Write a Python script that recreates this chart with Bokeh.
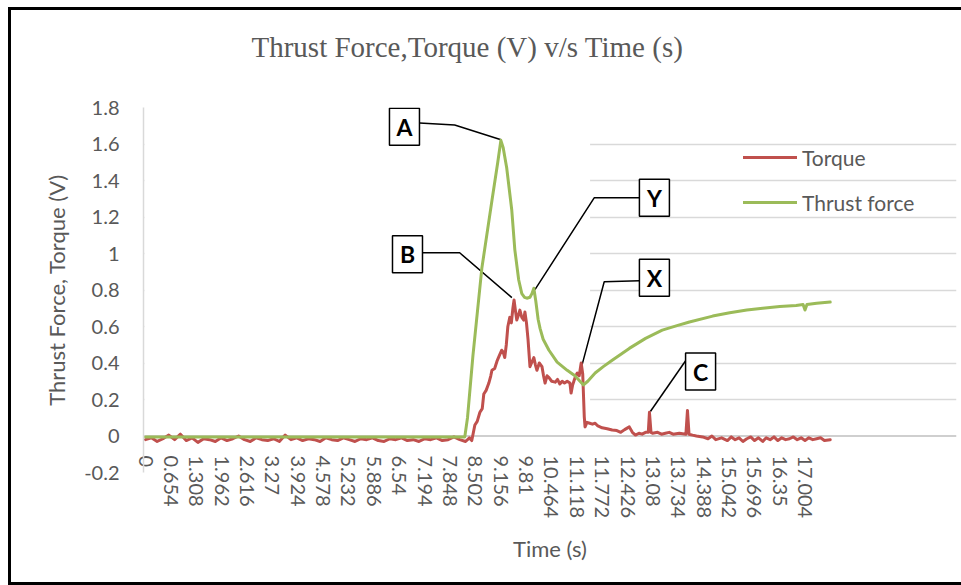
from bokeh.plotting import figure
from bokeh.models import FixedTicker, Span, Legend, LegendItem, Title
from bokeh.core.properties import value
from bokeh.embed import file_html
from bokeh.resources import INLINE

# ---------------- data ----------------
torque_t = [0.00, 0.15, 0.30, 0.45, 0.60, 0.75, 0.90, 1.05, 1.20, 1.35, 1.50, 1.65, 1.80, 1.95,
            2.10, 2.25, 2.40, 2.55, 2.70, 2.85, 3.00, 3.15, 3.30, 3.45, 3.60, 3.75, 3.90, 4.05,
            4.20, 4.35, 4.50, 4.65, 4.80, 4.95, 5.10, 5.25, 5.40, 5.55, 5.70, 5.85, 6.00, 6.15,
            6.30, 6.45, 6.60, 6.75, 6.90, 7.05, 7.20, 7.35, 7.50, 7.65, 7.80, 7.95, 8.10, 8.25,
            8.35, 8.41, 8.49, 8.55, 8.62, 8.68, 8.72, 8.78, 8.85, 8.90, 8.93, 9.00, 9.06, 9.12,
            9.18, 9.22, 9.26, 9.30, 9.34, 9.39, 9.43, 9.47, 9.50, 9.54, 9.57, 9.61, 9.65, 9.70,
            9.75, 9.78, 9.82, 9.86, 9.91, 9.95, 10.01, 10.05, 10.09, 10.15, 10.22, 10.26, 10.30,
            10.35, 10.40, 10.47, 10.56, 10.62, 10.68, 10.74, 10.80, 10.87, 10.94, 10.97, 11.01,
            11.05, 11.09, 11.13, 11.18, 11.23, 11.27, 11.31, 11.33, 11.38, 11.45, 11.52, 11.59,
            11.66, 11.77, 11.90, 12.03, 12.15, 12.25, 12.35, 12.47, 12.55, 12.63, 12.72, 12.80,
            12.89, 12.96, 12.99, 13.03, 13.07, 13.20, 13.30, 13.40, 13.50, 13.60, 13.76, 13.93,
            13.97, 14.01, 14.10, 14.20, 14.36, 14.50, 14.60, 14.70, 14.85, 15.00, 15.10, 15.20,
            15.30, 15.40, 15.50, 15.60, 15.70, 15.80, 15.91, 16.00, 16.10, 16.20, 16.30, 16.40,
            16.50, 16.60, 16.70, 16.80, 16.90, 17.00, 17.10, 17.20, 17.30, 17.40, 17.50, 17.65]
torque_v = [-0.02, -0.01, -0.03, -0.015, 0.005, -0.02, 0.01, -0.025, -0.01, -0.035, -0.015, -0.02,
            -0.03, -0.01, -0.025, -0.015, 0.0, -0.02, -0.03, -0.01, -0.02, -0.025, -0.015, -0.03,
            0.005, -0.02, -0.01, -0.025, -0.015, -0.02, -0.03, -0.01, -0.02, -0.025, -0.01, -0.02,
            -0.03, -0.015, -0.02, -0.01, -0.025, -0.03, -0.015, -0.02, -0.01, -0.025, -0.02, -0.03,
            -0.015, -0.02, -0.01, -0.025, -0.02, -0.005, -0.02, -0.03, -0.01, -0.025, 0.06, 0.08,
            0.13, 0.15, 0.23, 0.25, 0.29, 0.33, 0.36, 0.37, 0.41, 0.44, 0.47, 0.46, 0.43, 0.50,
            0.60, 0.65, 0.62, 0.70, 0.745, 0.68, 0.635, 0.66, 0.69, 0.65, 0.635, 0.68, 0.62, 0.53,
            0.38, 0.40, 0.43, 0.39, 0.36, 0.40, 0.38, 0.33, 0.29, 0.33, 0.32, 0.30, 0.295, 0.31,
            0.285, 0.30, 0.29, 0.30, 0.29, 0.235, 0.28, 0.305, 0.33, 0.345, 0.33, 0.40, 0.34,
            0.105, 0.05, 0.075, 0.07, 0.065, 0.07, 0.055, 0.045, 0.04, 0.033, 0.03, 0.02, 0.035,
            0.05, 0.02, 0.005, 0.015, 0.01, 0.02, 0.02, 0.13, 0.02, 0.015, 0.02, 0.01, 0.015,
            0.02, 0.01, 0.015, 0.01, 0.14, 0.01, 0.005, 0.0, -0.005, -0.015, 0.0, -0.02, -0.01,
            -0.025, -0.005, -0.02, -0.01, -0.03, -0.015, -0.005, -0.025, -0.01, -0.03, -0.01,
            -0.02, -0.005, -0.025, -0.01, -0.02, -0.015, -0.005, -0.02, -0.01, -0.025, -0.01,
            -0.02, -0.015, -0.01, -0.025, -0.02]

thrust_t = [0.00, 8.23, 8.30, 8.44, 8.67, 8.93, 9.08, 9.16, 9.22, 9.31, 9.44, 9.52, 9.62, 9.70,
            9.77, 9.83, 9.91, 9.96, 10.01, 10.06, 10.12, 10.17, 10.25, 10.40, 10.61, 10.87,
            11.07, 11.20, 11.29, 11.40, 11.59, 11.80, 12.03, 12.47, 12.89, 13.32, 13.70, 14.02,
            14.62, 15.06, 15.50, 15.91, 16.35, 16.77, 16.95, 17.00, 17.05, 17.30, 17.65]
thrust_v = [-0.005, -0.005, 0.10, 0.44, 0.92, 1.29, 1.50, 1.62, 1.58, 1.47, 1.24, 1.02, 0.855,
            0.78, 0.76, 0.755, 0.76, 0.78, 0.81, 0.74, 0.64, 0.59, 0.53, 0.47, 0.405, 0.36, 0.33,
            0.30, 0.28, 0.30, 0.345, 0.38, 0.415, 0.48, 0.535, 0.58, 0.605, 0.625, 0.657, 0.675,
            0.69, 0.70, 0.71, 0.715, 0.72, 0.69, 0.72, 0.727, 0.734]

x_tick_values = [0, 0.654, 1.308, 1.962, 2.616, 3.27, 3.924, 4.578, 5.232, 5.886, 6.54, 7.194,
                 7.848, 8.502, 9.156, 9.81, 10.464, 11.118, 11.772, 12.426, 13.08, 13.734,
                 14.388, 15.042, 15.696, 16.35, 17.004]
x_tick_labels = ["0", "0.654", "1.308", "1.962", "2.616", "3.27", "3.924", "4.578", "5.232",
                 "5.886", "6.54", "7.194", "7.848", "8.502", "9.156", "9.81", "10.464", "11.118",
                 "11.772", "12.426", "13.08", "13.734", "14.388", "15.042", "15.696", "16.35",
                 "17.004"]
y_tick_values = [-0.2, 0, 0.2, 0.4, 0.6, 0.8, 1, 1.2, 1.4, 1.6, 1.8]
y_tick_labels = ["-0.2", "0", "0.2", "0.4", "0.6", "0.8", "1", "1.2", "1.4", "1.6", "1.8"]

series_names = ["Torque", "Thrust force"]
marker_letters = ["A", "B", "Y", "X", "C"]
chart_title = "Thrust Force,Torque (V) v/s Time (s)"

# ---------------- layout / annotation placement ----------------
marker_box_t = [6.675, 6.753, 13.118, 13.118, 14.308]
marker_box_v = [1.694, 0.996, 1.305, 0.867, 0.353]
leader_xs = [[7.063, 7.969, 9.185], [7.115, 8.098, 9.444], [12.730, 11.565, 10.039],
             [12.730, 11.824, 11.255], [13.945, 13.014]]
leader_ys = [[1.715, 1.704, 1.622], [1.004, 1.004, 0.758], [1.305, 1.305, 0.802],
             [0.851, 0.845, 0.391], [0.419, 0.134]]

GRAY_TXT = "#595959"
FONT = "Lato"

p = figure(width=953, height=578, x_range=(-0.052, 20.905), y_range=(-0.2, 1.8),
           output_backend="svg", toolbar_location=None,
           min_border_left=132, min_border_right=8, min_border_top=97, min_border_bottom=116)
p.margin = (7, 0, 0, 8)
p.styles = {"border-left": "3px solid black", "border-top": "3px solid black",
            "border-bottom": "3px solid black"}
p.outline_line_color = None
p.background_fill_color = "white"
p.border_fill_color = "white"

# real title (outermost) and an empty spacer title between it and the frame
p.title.text = chart_title
p.title.text_font = "Liberation Serif"
p.title.text_font_size = "29px"
p.title.text_font_style = "normal"
p.title.text_color = GRAY_TXT
p.title.align = "left"
p.title.offset = 108
p.title.standoff = 10
p.add_layout(Title(text=" ", text_font_size="10px", standoff=27), "above")

# grid
p.xgrid.visible = False
p.ygrid.ticker = FixedTicker(ticks=[v for v in y_tick_values if v != 0])
p.ygrid.grid_line_color = "#d9d9d9"
p.ygrid.grid_line_width = 1.5
p.add_layout(Span(location=0, dimension="width", line_color="#bfbfbf", line_width=1.5,
                  level="underlay"))

# y axis
p.yaxis.ticker = FixedTicker(ticks=y_tick_values)
p.yaxis.major_label_overrides = dict(zip(y_tick_values, y_tick_labels))
p.yaxis.axis_line_color = "#d9d9d9"
p.yaxis.axis_line_width = 1.5
p.yaxis.major_tick_line_color = None
p.yaxis.minor_tick_line_color = None
p.yaxis.major_tick_out = 0
p.yaxis.major_tick_in = 0
p.yaxis.major_label_standoff = 24
p.yaxis.major_label_text_font = FONT
p.yaxis.major_label_text_font_size = "20px"
p.yaxis.major_label_text_color = GRAY_TXT
p.yaxis.axis_label = "Thrust Force, Torque (V)"
p.yaxis.axis_label_text_font = FONT
p.yaxis.axis_label_text_font_size = "22px"
p.yaxis.axis_label_text_font_style = "normal"
p.yaxis.axis_label_text_color = GRAY_TXT
p.yaxis.axis_label_standoff = 11

# x axis: labels hang just below the y = 0 line
p.xaxis.ticker = FixedTicker(ticks=x_tick_values)
p.xaxis.major_label_overrides = dict(zip(x_tick_values, x_tick_labels))
p.xaxis.axis_line_color = None
p.xaxis.major_tick_line_color = None
p.xaxis.minor_tick_line_color = None
p.xaxis.major_tick_out = 0
p.xaxis.major_tick_in = 0
p.xaxis.major_label_orientation = "vertical"
p.xaxis.major_label_standoff = -17
p.xaxis.major_label_text_font = FONT
p.xaxis.major_label_text_font_size = "20px"
p.xaxis.major_label_text_color = GRAY_TXT
p.xaxis.axis_label = "Time (s)"
p.xaxis.axis_label_text_font = FONT
p.xaxis.axis_label_text_font_size = "22px"
p.xaxis.axis_label_text_font_style = "normal"
p.xaxis.axis_label_text_color = GRAY_TXT
p.xaxis.axis_label_standoff = 14

# white panel of the inserted annotation picture (hides inner grid lines)
p.quad(left=-0.03, right=11.46, bottom=0.05, top=1.78, fill_color="white", line_color=None)

# leader lines
p.multi_line(xs=leader_xs, ys=leader_ys, line_color="black", line_width=1.5)

# series
r_torque = p.line(torque_t, torque_v, line_color="#C0504D", line_width=3,
                  line_cap="round", line_join="round")
r_thrust = p.line(thrust_t, thrust_v, line_color="#9BBB59", line_width=3,
                  line_cap="round", line_join="round")

# marker boxes
p.rect(x=marker_box_t, y=marker_box_v, width=30, height=37, width_units="screen",
       height_units="screen", fill_color="white", line_color="black", line_width=1.5)
p.text(x=marker_box_t, y=marker_box_v, text=marker_letters, text_align="center",
       text_baseline="middle", text_font=value(FONT), text_font_style="bold",
       text_font_size="23px", text_color="black")

legend = Legend(items=[LegendItem(label=series_names[0], renderers=[r_torque]),
                       LegendItem(label=series_names[1], renderers=[r_thrust])],
                location=(600, 257), padding=0, margin=0, border_line_color=None,
                background_fill_alpha=0, glyph_width=54, glyph_height=26, label_height=26,
                spacing=19, label_standoff=5, label_text_font=FONT,
                label_text_font_size="21px", label_text_color=GRAY_TXT)
p.add_layout(legend)

open("out.html", "w").write(file_html(p, INLINE))
